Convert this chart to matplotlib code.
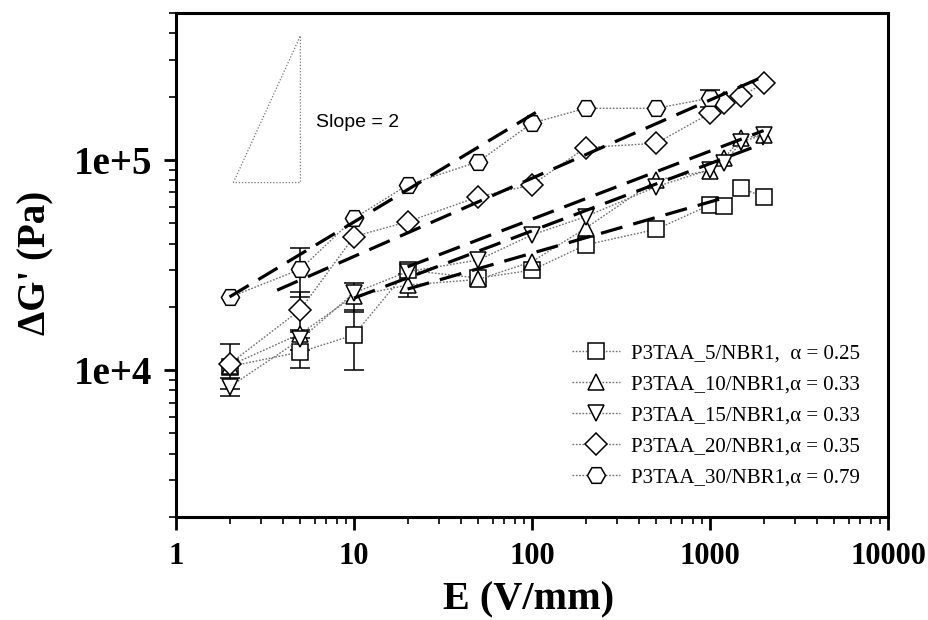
import numpy as np
import matplotlib
matplotlib.use('Agg')
import matplotlib.pyplot as plt
from matplotlib.ticker import FixedLocator, FixedFormatter, LogLocator, NullFormatter

# ---------------- data ----------------
E = [2, 5, 10, 20, 50, 100, 200, 500, 1000, 1200, 1500, 2000]
E_hex = [2, 5, 10, 20, 50, 100, 200, 500, 1000]

G_p5 = [10400, 12200, 14700, 29900, 27400, 29900, 39400, 46800, 61100, 60400, 73300, 66800]
G_p10 = [10500, 14900, 22500, 25400, 27000, 32800, 47300, 80300, 89000, 101900, 126800, 131500]
G_p15 = [8320, 14000, 23300, 29400, 33400, 44000, 53700, 74600, 90000, 96600, 122000, 131500]
G_p20 = [10700, 19400, 43200, 50800, 66800, 76000, 114500, 120000, 166700, 186000, 200400, 231700]
G_p30 = [22200, 30200, 52700, 76000, 98100, 149700, 176000, 176000, 196800]

err_p5 = [0, 2000, 4700, 0, 0, 0, 0, 0, 0, 0, 0, 0]
err_p10 = [0, 0, 3500, 3200, 0, 0, 0, 0, 0, 0, 0, 0]
err_p15 = [800, 1500, 0, 0, 0, 0, 0, 0, 0, 0, 0, 0]
err_p20 = [2600, 4200, 0, 0, 0, 0, 0, 0, 0, 0, 0, 0]
err_p30 = [0, 8000, 0, 0, 0, 0, 0, 0, 18000]

labels = ["P3TAA_5/NBR1,  \u03b1 = 0.25",
          "P3TAA_10/NBR1,\u03b1 = 0.33",
          "P3TAA_15/NBR1,\u03b1 = 0.33",
          "P3TAA_20/NBR1,\u03b1 = 0.35",
          "P3TAA_30/NBR1,\u03b1 = 0.79"]

# power-law fit lines: G = G0 * (E/E0)**slope between E0 and E1
fit_E0 = [20, 10, 20, 3.7, 2]
fit_E1 = [1150, 2000, 2000, 2000, 105]
fit_G0 = [24300, 22000, 31000, 24000, 22300]
fit_slope = [0.244, 0.32, 0.324, 0.372, 0.51]

# slope triangle
tri_E = [2.1, 5.0, 5.0, 2.1]
tri_G = [78000, 390000, 78000, 78000]

# ---------------- figure ----------------
fig = plt.figure(figsize=(9.29, 6.2), dpi=100)
ax = fig.add_axes([176/929, 1-517/620, (888-176)/929, (517-13)/620])
ax.set_xscale('log')
ax.set_yscale('log')
ax.set_xlim(1, 10000)
ax.set_ylim(2000, 500000)

series = [
    (E, G_p5, err_p5, 's', 11),
    (E, G_p10, err_p10, '^', 12),
    (E, G_p15, err_p15, 'v', 12),
    (E, G_p20, err_p20, 'D', 11),
    (E_hex, G_p30, err_p30, 'H', 13),
]

handles = []
for (x, y, err, m, ms), lab in zip(series, labels):
    x = np.array(x, float); y = np.array(y, float); err = np.array(err, float)
    h, = ax.plot(x, y, linestyle=(0, (1.2, 1.2)), color='#707070', lw=1.0,
                 marker=m, ms=ms, mfc='white', mec='black', mew=1.1, label=lab, zorder=3)
    handles.append(h)
    mask = err > 0
    if mask.any():
        ax.errorbar(x[mask], y[mask], yerr=err[mask], fmt='none', ecolor='black',
                    elinewidth=1.1, capsize=7, capthick=1.1, zorder=2)

for e0, e1, g0, s in zip(fit_E0, fit_E1, fit_G0, fit_slope):
    ee = np.geomspace(e0, e1, 60)
    ax.plot(ee, g0 * (ee / e0) ** s, color='black', lw=2.3,
            linestyle=(0, (7, 3.5)), zorder=4)

ax.plot(tri_E, tri_G, linestyle=(0, (1, 1.5)), color='#777777', lw=0.9, zorder=1)
ax.text(6.1, 150000, 'Slope = 2', fontsize=14, family='Liberation Sans',
        ha='left', va='center')

# ---------------- axes styling ----------------
for sp in ax.spines.values():
    sp.set_linewidth(2.2)

ax.xaxis.set_major_locator(FixedLocator([1, 10, 100, 1000, 10000]))
ax.xaxis.set_major_formatter(FixedFormatter(['1', '10', '100', '1000', '10000']))
ax.xaxis.set_minor_locator(LogLocator(base=10, subs=np.arange(2, 10)))
ax.xaxis.set_minor_formatter(NullFormatter())
ax.yaxis.set_major_locator(FixedLocator([1e4, 1e5]))
ax.yaxis.set_major_formatter(FixedFormatter(['1e+4', '1e+5']))
ax.yaxis.set_minor_locator(LogLocator(base=10, subs=np.arange(2, 10)))
ax.yaxis.set_minor_formatter(NullFormatter())

ax.tick_params(which='major', direction='out', length=9, width=2.0)
ax.tick_params(which='minor', direction='out', length=5, width=1.2)
ax.tick_params(axis='x', which='major', pad=9)
ax.tick_params(axis='y', which='major', pad=8)
for lab in ax.get_xticklabels():
    lab.set_family('Liberation Serif')
    lab.set_fontweight('bold')
    lab.set_fontsize(22)
for lab in ax.get_yticklabels():
    lab.set_family('Liberation Serif')
    lab.set_fontweight('bold')
    lab.set_fontsize(28)

ax.set_xlabel('E (V/mm)', family='Liberation Serif', fontweight='bold', fontsize=29)
ax.xaxis.set_label_coords(0.495, -0.128)
ax.set_ylabel("\u0394G' (Pa)", family='Liberation Serif', fontweight='bold', fontsize=28)
ax.yaxis.set_label_coords(-0.171, 0.505)

leg = ax.legend(handles=handles, loc='lower left', bbox_to_anchor=(0.545, 0.042),
                frameon=False, prop={'family': 'Liberation Serif', 'size': 15},
                handlelength=2.3, handletextpad=0.5, labelspacing=0.55,
                borderaxespad=0)

fig.savefig('out.png', dpi=100)
